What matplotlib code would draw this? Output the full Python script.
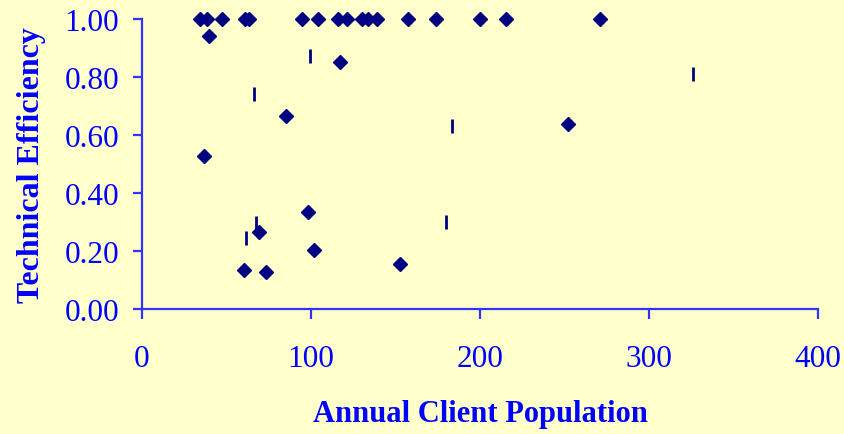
import matplotlib.pyplot as plt

# efficiency scores, diamonds (first series)
pop_diamond = [34.3, 38.5, 47.3, 60.9, 63.3, 94.7, 104.1, 115.9, 121.3, 130.2,
               133.7, 139.1, 157.4, 174.0, 200.0, 215.4, 271.0,
               39.8, 117.2, 85.2, 36.7, 252.3,
               98.4, 69.4, 101.8, 60.2, 73.2, 152.7]
eff_diamond = [1.00, 1.00, 1.00, 1.00, 1.00, 1.00, 1.00, 1.00, 1.00, 1.00,
               1.00, 1.00, 1.00, 1.00, 1.00, 1.00, 1.00,
               0.94, 0.853, 0.664, 0.529, 0.638,
               0.333, 0.267, 0.203, 0.134, 0.129, 0.155]

# second series, bar markers
pop_bar = [99.6, 66.5, 183.6, 325.8, 67.5, 61.7, 179.9]
eff_bar = [0.874, 0.741, 0.630, 0.811, 0.295, 0.244, 0.299]

x_ticks = [0, 100, 200, 300, 400]
y_ticks = [0.0, 0.2, 0.4, 0.6, 0.8, 1.0]

blue = '#0000FF'
axis_blue = '#3333FF'
navy = '#000080'
bg = '#FFFFCC'

plt.rcParams['font.family'] = ['Liberation Serif', 'DejaVu Serif']

fig = plt.figure(figsize=(8.44, 4.35), dpi=100, facecolor=bg)
ax = fig.add_axes([0.1682, 0.2874, 0.801, 0.6666])
ax.set_facecolor(bg)

ax.plot(pop_diamond, eff_diamond, linestyle='none', marker='D', markersize=7.5,
        color=navy, clip_on=False, zorder=3)
ax.plot(pop_bar, eff_bar, linestyle='none', marker='|', markersize=10,
        markeredgewidth=2, color=navy, clip_on=False, zorder=3)

ax.set_xlim(0, 400)
ax.set_ylim(0, 1.0)
ax.set_xticks(x_ticks)
ax.set_xticklabels([str(v) for v in x_ticks])
ax.set_yticks(y_ticks)
ax.set_yticklabels(['%.2f' % v for v in y_ticks])

for side in ['top', 'right']:
    ax.spines[side].set_visible(False)
for side in ['left', 'bottom']:
    ax.spines[side].set_color(axis_blue)
    ax.spines[side].set_linewidth(1.6)

ax.tick_params(axis='x', direction='out', length=7, width=1.6, color=axis_blue,
               labelcolor=blue, labelsize=22.5, pad=18)
ax.tick_params(axis='y', direction='out', length=6.5, width=1.6, color=axis_blue,
               labelcolor=blue, labelsize=22.5, pad=10)

ax.set_xlabel('Annual Client Population', fontsize=22, fontweight='bold',
              color=blue, labelpad=19)
ax.set_ylabel('Technical Efficiency', fontsize=23, fontweight='bold',
              color=blue, labelpad=13)

fig.savefig('out.png', dpi=100, facecolor=bg)
